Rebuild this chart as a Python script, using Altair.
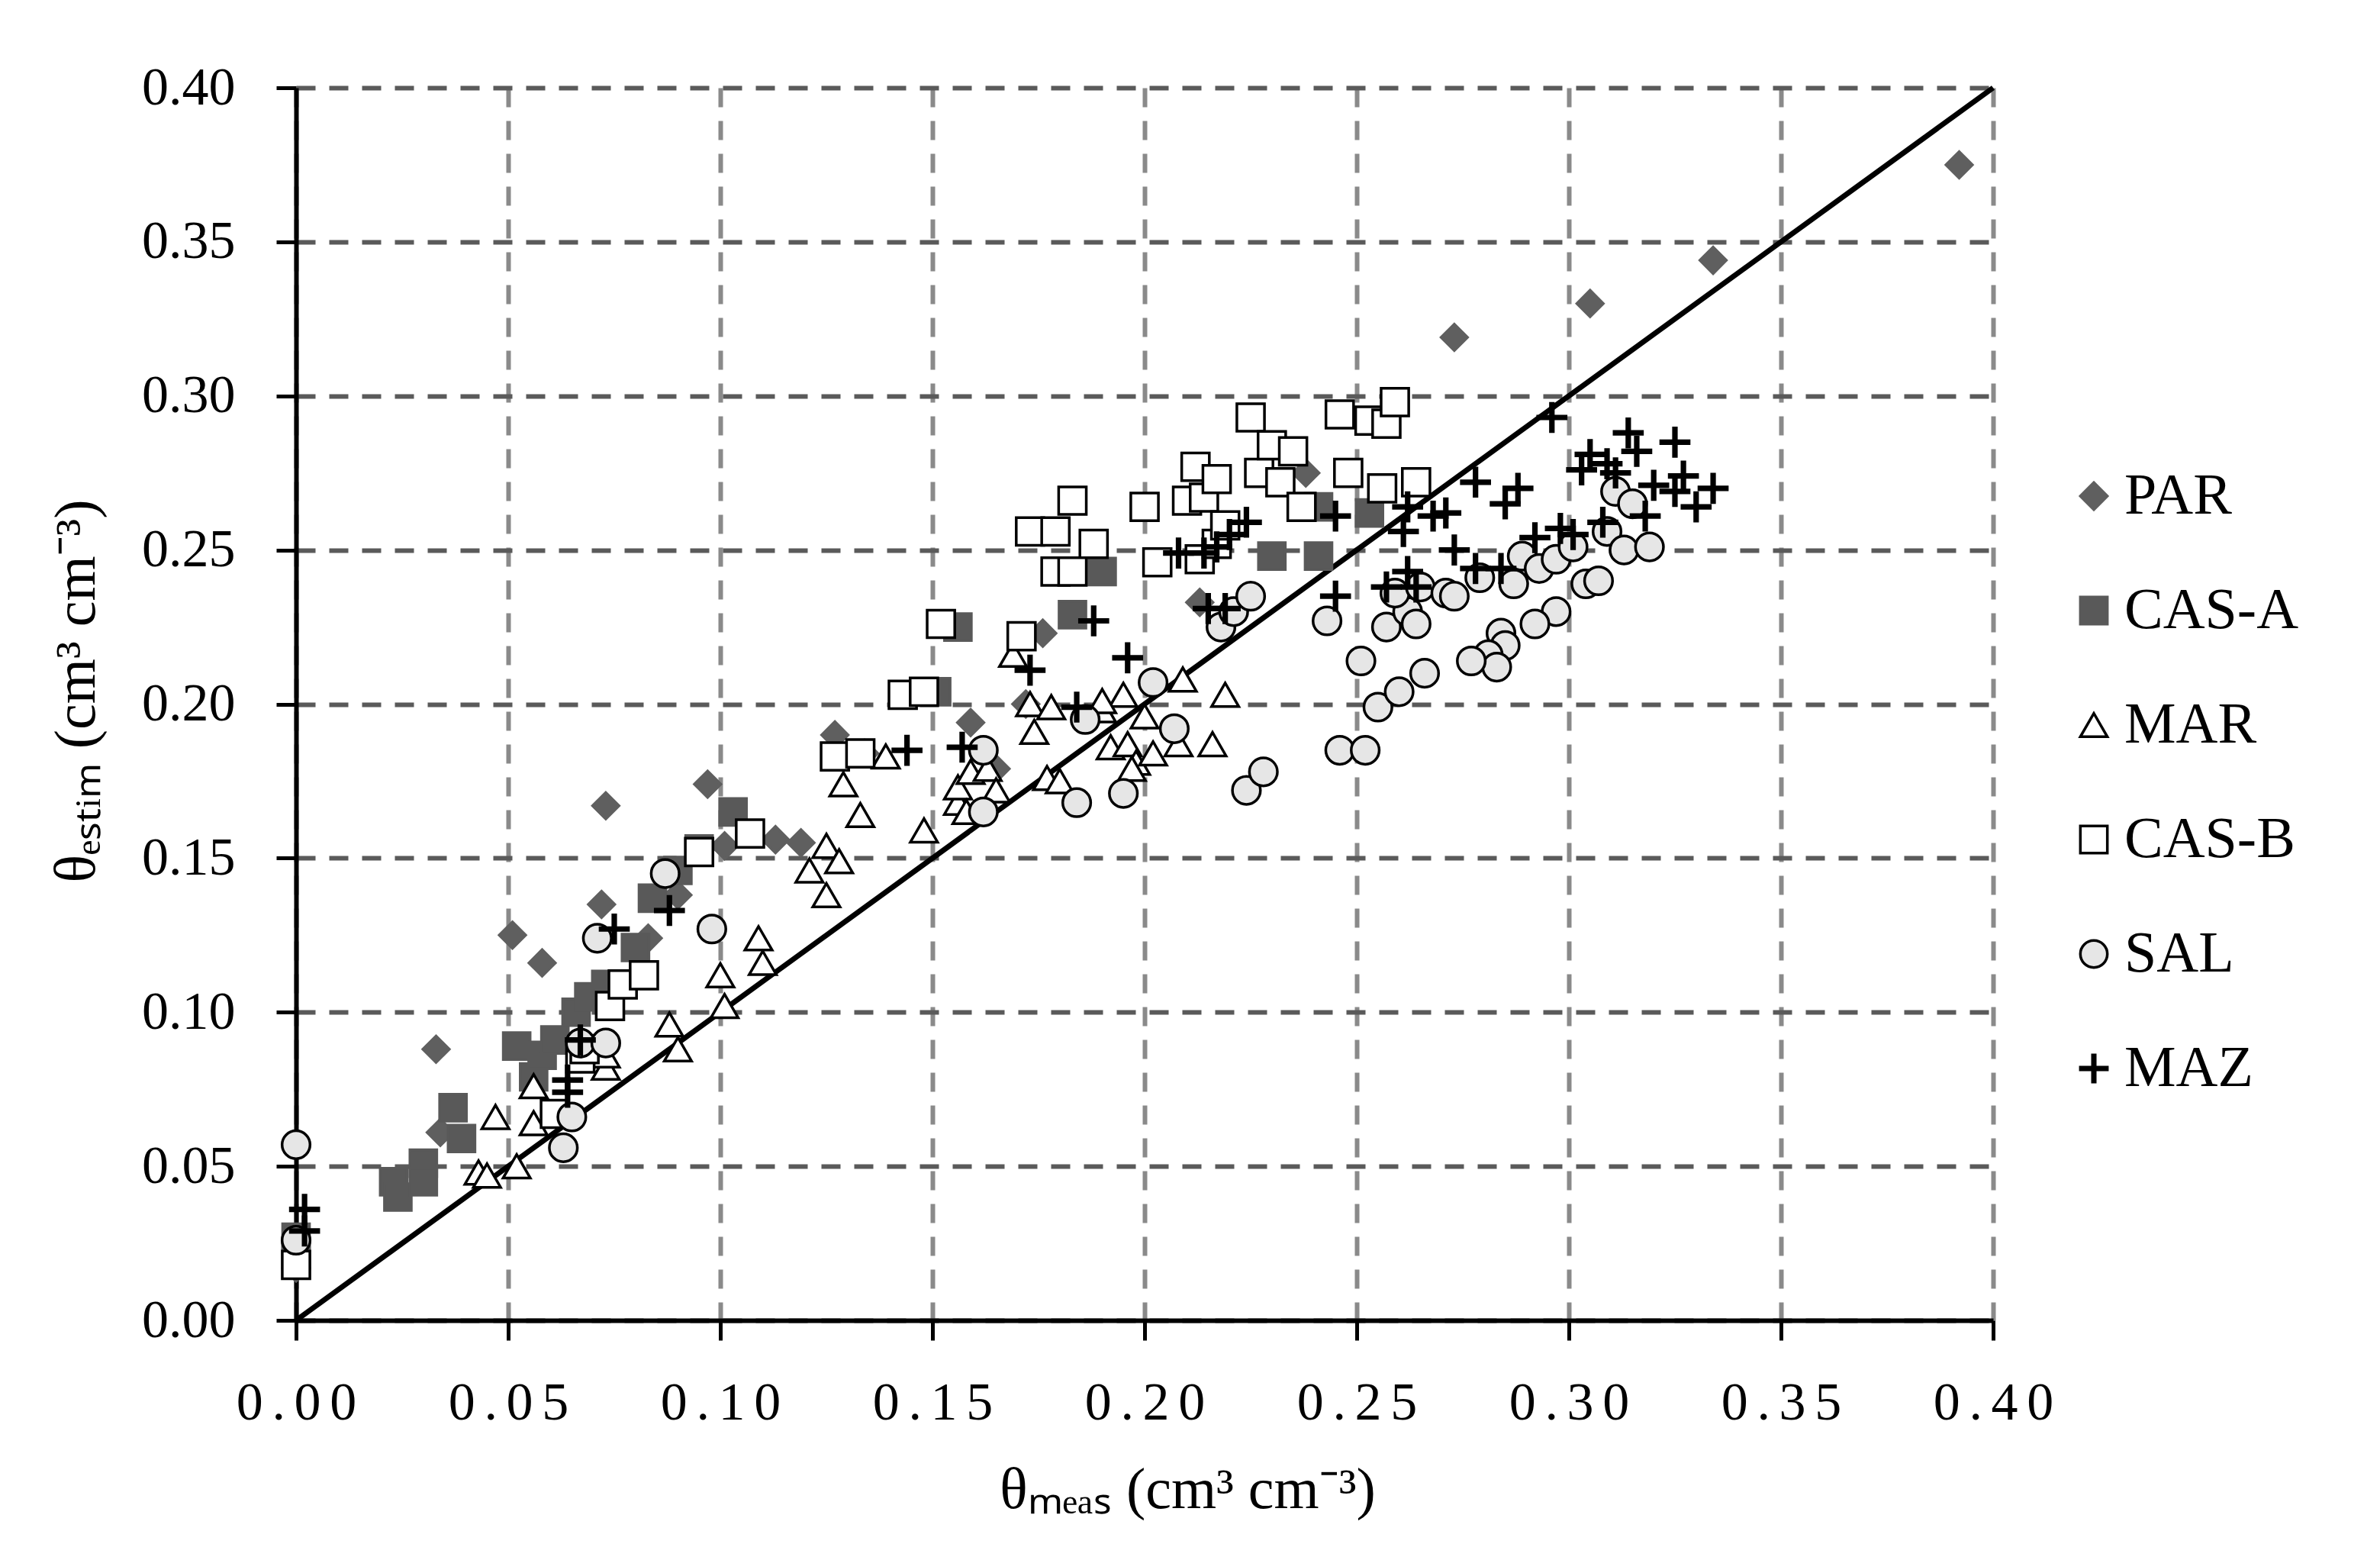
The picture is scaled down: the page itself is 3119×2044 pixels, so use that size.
import altair as alt
import pandas as pd

SERIES = ["PAR", "CAS-A", "MAR", "CAS-B", "SAL", "MAZ"]

# (theta_meas, theta_estim) pairs
PAR = [(0.000, 0.017), (0.033, 0.088), (0.034, 0.061), (0.051, 0.125), (0.058, 0.116),
       (0.072, 0.135), (0.073, 0.167), (0.083, 0.124), (0.090, 0.138), (0.097, 0.174),
       (0.101, 0.154), (0.113, 0.156), (0.119, 0.155), (0.127, 0.190), (0.134, 0.184),
       (0.159, 0.194), (0.165, 0.179), (0.172, 0.200), (0.176, 0.223), (0.213, 0.233),
       (0.238, 0.275), (0.273, 0.319), (0.305, 0.330), (0.334, 0.344), (0.392, 0.375)]

CAS_A = [(0.000, 0.027), (0.000, 0.021), (0.023, 0.045), (0.024, 0.040), (0.030, 0.051),
         (0.030, 0.045), (0.037, 0.069), (0.039, 0.059), (0.052, 0.089), (0.056, 0.079),
         (0.058, 0.086), (0.061, 0.091), (0.066, 0.100), (0.069, 0.105), (0.073, 0.109),
         (0.080, 0.121), (0.084, 0.137), (0.090, 0.146), (0.095, 0.153), (0.103, 0.165),
         (0.151, 0.204), (0.156, 0.225), (0.183, 0.229), (0.190, 0.243), (0.230, 0.248),
         (0.241, 0.248), (0.241, 0.264), (0.253, 0.262)]

MAR = [(0.043, 0.048), (0.045, 0.047), (0.052, 0.050), (0.047, 0.066), (0.056, 0.064),
       (0.056, 0.076), (0.073, 0.082), (0.073, 0.086), (0.088, 0.096), (0.090, 0.088),
       (0.100, 0.112), (0.101, 0.102), (0.109, 0.124), (0.110, 0.116), (0.121, 0.146),
       (0.125, 0.154), (0.128, 0.149), (0.125, 0.138), (0.129, 0.174), (0.133, 0.164),
       (0.139, 0.183), (0.148, 0.159), (0.156, 0.168), (0.156, 0.173), (0.158, 0.165),
       (0.159, 0.178), (0.163, 0.179), (0.165, 0.172), (0.169, 0.216), (0.173, 0.200),
       (0.174, 0.191), (0.178, 0.199), (0.177, 0.176), (0.180, 0.175), (0.190, 0.198),
       (0.195, 0.203), (0.192, 0.186), (0.196, 0.187), (0.200, 0.196), (0.198, 0.181),
       (0.202, 0.184), (0.209, 0.208), (0.208, 0.187), (0.216, 0.187), (0.219, 0.203),
       (0.197, 0.179), (0.190, 0.201)]

CAS_B = [(0.000, 0.018), (0.061, 0.067), (0.067, 0.085), (0.068, 0.088), (0.074, 0.102),
         (0.077, 0.109), (0.082, 0.112), (0.095, 0.152), (0.107, 0.158), (0.127, 0.183),
         (0.133, 0.184), (0.143, 0.203), (0.148, 0.204), (0.152, 0.226), (0.171, 0.222),
         (0.173, 0.256), (0.179, 0.256), (0.183, 0.266), (0.188, 0.252), (0.179, 0.243),
         (0.183, 0.243), (0.200, 0.264), (0.203, 0.246), (0.210, 0.266), (0.212, 0.277),
         (0.214, 0.267), (0.217, 0.273), (0.213, 0.247), (0.217, 0.252), (0.219, 0.258),
         (0.225, 0.293), (0.227, 0.275), (0.230, 0.284), (0.235, 0.282), (0.232, 0.272),
         (0.237, 0.264), (0.246, 0.294), (0.248, 0.275), (0.253, 0.292), (0.257, 0.291),
         (0.259, 0.298), (0.256, 0.270), (0.264, 0.272)]

SAL = [(0.000, 0.057), (0.000, 0.026), (0.063, 0.056), (0.065, 0.066), (0.067, 0.090),
       (0.073, 0.090), (0.071, 0.124), (0.087, 0.145), (0.098, 0.127), (0.162, 0.165),
       (0.162, 0.185), (0.184, 0.168), (0.186, 0.195), (0.195, 0.171), (0.202, 0.207),
       (0.207, 0.192), (0.218, 0.225), (0.221, 0.230), (0.225, 0.235), (0.224, 0.172),
       (0.228, 0.178), (0.243, 0.227), (0.246, 0.185), (0.252, 0.185), (0.251, 0.214),
       (0.255, 0.199), (0.260, 0.204), (0.266, 0.210), (0.257, 0.225), (0.262, 0.230),
       (0.264, 0.226), (0.259, 0.236), (0.265, 0.238), (0.271, 0.236), (0.273, 0.235),
       (0.279, 0.241), (0.287, 0.239), (0.289, 0.248), (0.293, 0.244), (0.297, 0.247),
       (0.301, 0.251), (0.304, 0.239), (0.307, 0.240), (0.309, 0.256), (0.311, 0.269),
       (0.315, 0.265), (0.313, 0.250), (0.319, 0.251), (0.297, 0.230), (0.292, 0.226),
       (0.284, 0.223), (0.285, 0.219), (0.281, 0.216), (0.283, 0.212), (0.277, 0.214)]

MAZ = [(0.002, 0.036), (0.002, 0.029), (0.064, 0.078), (0.064, 0.074), (0.067, 0.091),
       (0.075, 0.127), (0.088, 0.133), (0.144, 0.185), (0.157, 0.186), (0.173, 0.211),
       (0.184, 0.199), (0.188, 0.227), (0.196, 0.215), (0.208, 0.249), (0.214, 0.249),
       (0.217, 0.251), (0.220, 0.255), (0.224, 0.259), (0.215, 0.231), (0.219, 0.231),
       (0.245, 0.261), (0.245, 0.235), (0.262, 0.264), (0.261, 0.256), (0.268, 0.261),
       (0.257, 0.238), (0.262, 0.243), (0.264, 0.238), (0.271, 0.262), (0.278, 0.272),
       (0.288, 0.270), (0.285, 0.265), (0.273, 0.250), (0.278, 0.244), (0.284, 0.244),
       (0.292, 0.254), (0.298, 0.257), (0.301, 0.255), (0.308, 0.259), (0.296, 0.293),
       (0.314, 0.288), (0.316, 0.282), (0.325, 0.285), (0.305, 0.281), (0.303, 0.276),
       (0.309, 0.278), (0.311, 0.275), (0.320, 0.271), (0.325, 0.269), (0.327, 0.274),
       (0.334, 0.270), (0.330, 0.264), (0.318, 0.261)]

ONE_TO_ONE = [0.0, 0.40]
TICKS = [0.00, 0.05, 0.10, 0.15, 0.20, 0.25, 0.30, 0.35, 0.40]

rows = []
for name, pts in zip(SERIES, [PAR, CAS_A, MAR, CAS_B, SAL, MAZ]):
    for xm, ye in pts:
        rows.append({"series": name, "meas": xm, "estim": ye, "idx": len(rows)})
df = pd.DataFrame(rows)
line_df = pd.DataFrame({"meas": ONE_TO_ONE, "estim": ONE_TO_ONE})

FONT = "Liberation Serif"
PLUS = "M-0.1,-1H0.1V-0.1H1V0.1H0.1V1H-0.1V0.1H-1V-0.1H-0.1Z"
shape_range = ["diamond", "square", "triangle-up", "square", "circle", PLUS]
fill_range = ["#5f5f5f", "#595959", "#ffffff", "#ffffff", "#e6e6e6", "#000000"]
stroke_range = ["#5f5f5f", "#595959", "#000000", "#000000", "#000000", "#000000"]
size_by_series = {"PAR": 1550, "CAS-A": 1300, "MAR": 1250, "CAS-B": 1150, "SAL": 1200, "MAZ": 1380}
# size scale listed in reverse order so its (hidden) legend stays separate
size_domain = SERIES[::-1]
size_range = [size_by_series[s] for s in size_domain]

x_scale = alt.Scale(domain=[0, 0.4], nice=False, zero=False)
y_scale = alt.Scale(domain=[0, 0.4], nice=False, zero=False)

x_axis = alt.Axis(
    values=TICKS,
    labelExpr="join(split(format(datum.value, '.2f'), ''), '\u2006')",
    labelFont=FONT, labelFontSize=70, labelColor="black", labelPadding=48,
    labelFlush=False, labelOverlap=False,
    tickSize=26, tickWidth=5, tickColor="black",
    domainColor="black", domainWidth=6,
    grid=True, gridColor="#8a8a8a", gridDash=[25, 18], gridWidth=6,
    title="θₘₑₐₛ (cm³ cm⁻³)", titleFont=FONT, titleFontSize=76,
    titleFontWeight="normal", titleColor="black",
    titleX=1168, titleY=245, titleAlign="center", titleBaseline="alphabetic",
)
y_axis = alt.Axis(
    values=TICKS, format=".2f",
    labelFont=FONT, labelFontSize=70, labelColor="black", labelPadding=54,
    labelFlush=False, labelOverlap=False,
    tickSize=26, tickWidth=5, tickColor="black",
    domainColor="black", domainWidth=6,
    grid=True, gridColor="#5a5a5a", gridDash=[25, 18], gridWidth=6,
    title="θₑₛₜᵢₘ (cm³ cm⁻³)", titleFont=FONT, titleFontSize=76,
    titleFontWeight="normal", titleColor="black", titleAngle=270,
    titleX=-265, titleY=790, titleAlign="center", titleBaseline="alphabetic",
)

legend = alt.Legend(
    title=None, orient="none", legendX=2318, legendY=497,
    labelFont=FONT, labelFontSize=76, labelColor="black", labelLimit=600,
    symbolSize=1250, symbolStrokeWidth=3.5, rowPadding=74, labelOffset=2,
    padding=0,
)

line = alt.Chart(line_df).mark_line(color="black", strokeWidth=7).encode(
    x=alt.X("meas:Q", scale=x_scale, axis=x_axis),
    y=alt.Y("estim:Q", scale=y_scale, axis=y_axis),
)

points = alt.Chart(df).mark_point(filled=True, strokeWidth=3.5, opacity=1).encode(
    x=alt.X("meas:Q", scale=x_scale, axis=x_axis),
    y=alt.Y("estim:Q", scale=y_scale, axis=y_axis),
    shape=alt.Shape("series:N", scale=alt.Scale(domain=SERIES, range=shape_range), legend=legend),
    fill=alt.Fill("series:N", scale=alt.Scale(domain=SERIES, range=fill_range), legend=legend),
    stroke=alt.Stroke("series:N", scale=alt.Scale(domain=SERIES, range=stroke_range), legend=legend),
    size=alt.Size("series:N", scale=alt.Scale(domain=size_domain, range=size_range), legend=None),
    order=alt.Order("idx:Q"),
)

chart = alt.layer(line, points).properties(
    width=2224, height=1615,
    autosize=alt.AutoSizeParams(type="none"),
    padding={"left": 380, "top": 107, "right": 480, "bottom": 290},
    background="white",
).configure_view(stroke=None)

chart.save("out.html", embed_options={"renderer": "svg", "actions": False})
